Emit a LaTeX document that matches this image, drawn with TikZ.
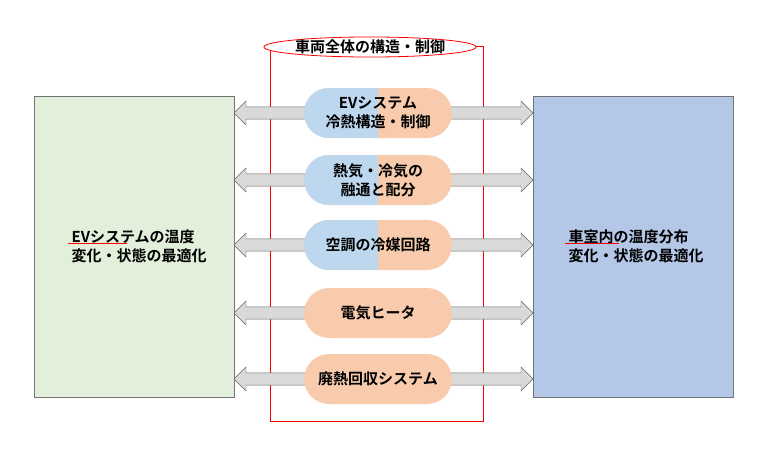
\documentclass[tikz,border=0pt]{standalone}
\usepackage{fontspec}
\setmainfont{Noto Sans CJK JP}[BoldFont={* Bold}]
\usetikzlibrary{shapes.misc,shapes.arrows,shapes.geometric}
\definecolor{boxgreen}{HTML}{E2EFDA}
\definecolor{boxblue}{HTML}{B4C7E7}
\definecolor{pillblue}{HTML}{BDD7EE}
\definecolor{pillorange}{HTML}{F8CBAD}
\definecolor{arrowgray}{HTML}{D9D9D9}
\begin{document}
\begin{tikzpicture}[x=1pt,y=-1pt,font=\bfseries\fontsize{15}{19}\selectfont]
  \tikzset{
    side/.style={draw=black!55,minimum width=200pt,minimum height=301pt,inner sep=0pt},
    pill/.style={rounded rectangle,fill=pillorange,minimum width=150pt,minimum height=50pt,align=center,inner sep=1pt},
    halfpill/.style={pill,path picture={\fill[pillblue] (path picture bounding box.south west) rectangle (path picture bounding box.north);}},
    link/.style={double arrow,draw=black!60,fill=arrowgray,minimum width=24pt,double arrow head extend=5pt,double arrow head indent=0pt,minimum height=299pt,inner sep=3.5pt,shape border uses incircle},
  }
  \useasboundingbox (0,0) rectangle (774,455);

  \node[side,fill=boxgreen] (ev) at (134,246.5) {};
  \node[side,fill=boxblue] (cabin) at (633,246.5) {};
  \draw[red,thick] (270,46) rectangle (483,421);

  % arrows behind the pills
  \foreach \y/\n in {113/a1,180/a2,245/a3,313/a4,379/a5}
    \node[link] (\n) at (383.5,\y) {};

  \node[halfpill] (p1) at (378,113) {EVシステム\\冷熱構造・制御};
  \node[halfpill] (p2) at (378,180) {熱気・冷気の\\融通と配分};
  \node[halfpill] (p3) at (378,245) {空調の冷媒回路};
  \node[pill] (p4) at (378,313) {電気ヒータ};
  \node[pill] (p5) at (378,379) {廃熱回収システム};

  \node[ellipse,draw=red,thick,fill=white,minimum width=200pt,minimum height=20pt,inner sep=0pt] (title) at (370,47) {車両全体の構造・制御};

  \node[align=left,anchor=west] (evtext) at (68,246) {EVシステムの温度\\変化・状態の最適化};
  \node[align=left,anchor=west] (cabtext) at (565,246) {車室内の温度分布\\変化・状態の最適化};
  \draw[red,thick] (68,243) -- (127,243);
  \draw[red,thick] (565,243) -- (619,243);
\end{tikzpicture}
\end{document}
